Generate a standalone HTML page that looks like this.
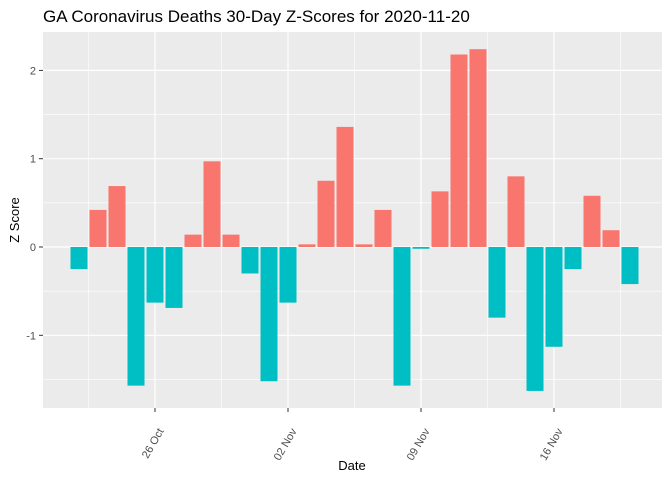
<!DOCTYPE html>
<html><head><meta charset="utf-8"><style>
body{margin:0;background:#fff;}
svg{display:block;font-family:"Liberation Sans",sans-serif;}
</style></head><body>
<svg id="chart" width="672" height="480">
<rect width="672" height="480" fill="#fff"/>
<text x="43" y="22" font-size="17" fill="#000">GA Coronavirus Deaths 30-Day Z-Scores for 2020-11-20</text>
<rect x="43" y="32" width="619" height="376" fill="#ebebeb"/>
<g id="grid"></g><g id="bars"></g><g id="axes"></g>
<text x="352" y="470" font-size="13" text-anchor="middle">Date</text>
<text transform="translate(19,220) rotate(-90)" font-size="13" text-anchor="middle">Z Score</text>
</svg>
<script>
const dayOffsets=[0,1,2,3,4,5,6,7,8,9,10,11,12,13,14,15,16,17,18,19,20,21,22,23,24,25,26,27,28,29]; // days since 22 Oct
const zScores=[-0.25,0.42,0.69,-1.57,-0.63,-0.69,0.14,0.97,0.14,-0.3,-1.52,-0.63,0.03,0.75,1.36,0.03,0.42,-1.57,-0.02,0.63,2.18,2.24,-0.8,0.8,-1.63,-1.13,-0.25,0.58,0.19,-0.42];
const xTickDays=[4,11,18,25];
const xTickLabels=["26 Oct","02 Nov","09 Nov","16 Nov"];
const yTicks=[-1,0,1,2];
const NS="http://www.w3.org/2000/svg";
const x=d=>79+d*19.0;
const y=v=>247-v*88.3;
function mk(tag,attrs,parent){const e=document.createElementNS(NS,tag);for(const k in attrs)e.setAttribute(k,attrs[k]);parent.appendChild(e);return e;}
const grid=document.getElementById('grid'),bars=document.getElementById('bars'),axes=document.getElementById('axes');
[-1.5,-0.5,0.5,1.5].forEach(v=>{const l=mk('line',{x1:43,x2:662,y1:y(v),y2:y(v),stroke:'#fff','stroke-width':0.6},grid);

});
[0.5,7.5,14.5,21.5,28.5].forEach(d=>{const l=mk('line',{x1:x(d),x2:x(d),y1:32,y2:408,stroke:'#fff','stroke-width':0.6},grid);

});
yTicks.forEach(v=>{const l=mk('line',{x1:43,x2:662,y1:y(v),y2:y(v),stroke:'#fff','stroke-width':1.2},grid);


const t=mk('line',{x1:39,x2:43,y1:y(v),y2:y(v),stroke:'#333','stroke-width':1},axes);


const tx=mk('text',{x:36,y:y(v)+4,'font-size':11,fill:'#4d4d4d','text-anchor':'end'},axes);tx.textContent=v;

});
xTickDays.forEach((d,i)=>{const l=mk('line',{x1:x(d),x2:x(d),y1:32,y2:408,stroke:'#fff','stroke-width':1.2},grid);


const t=mk('line',{x1:x(d),x2:x(d),y1:408,y2:412,stroke:'#333','stroke-width':1},axes);


const tx=mk('text',{transform:`translate(${x(d)+9},432) rotate(-60)`,'font-size':11,fill:'#4d4d4d','text-anchor':'start'},axes);
tx.setAttribute('transform',`translate(${x(d)+9},431) rotate(-60)`);
tx.setAttribute('text-anchor','end');
tx.textContent=xTickLabels[i];

});
zScores.forEach((v,i)=>{const cx=x(dayOffsets[i]);const y0=y(Math.max(v,0)),y1=y(Math.min(v,0));
const r=mk('rect',{x:cx-8.5,y:y0,width:17,height:y1-y0,fill:v>=0?'#f8766d':'#00bfc4'},bars);

});
</script>
</body></html>
